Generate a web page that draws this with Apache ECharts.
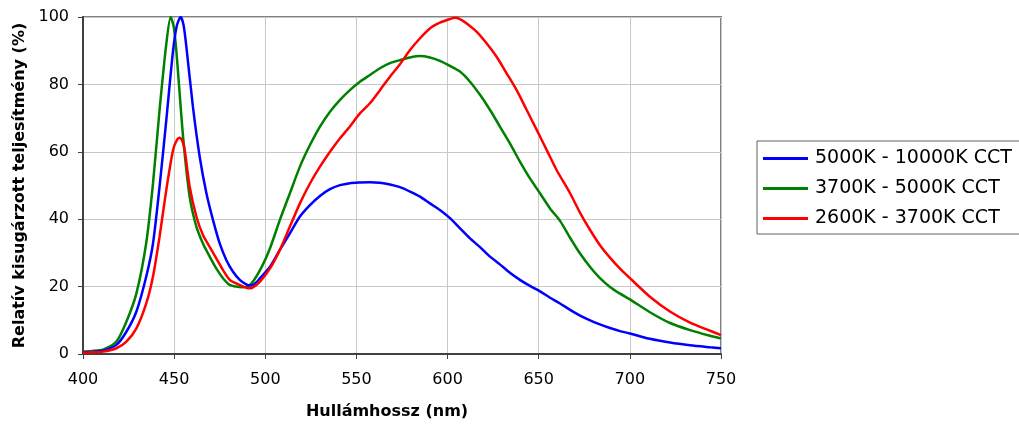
<!DOCTYPE html>
<html>
<head>
<meta charset="utf-8">
<script src="https://cdn.jsdelivr.net/npm/echarts@6/dist/echarts.min.js"></script>
<style>
html,body{margin:0;padding:0;background:#fff;}
#chart{width:1019px;height:429px;}
</style>
</head>
<body>
<div id="chart"></div>
<script>
const seriesNames = ['5000K - 10000K CCT', '3700K - 5000K CCT', '2600K - 3700K CCT'];
const xTitle = 'Hullámhossz (nm)';
const yTitle = 'Relatív kisugárzott teljesítmény (%)';

const blueNm = [400,405,411,418.3,423.8,429.3,434.7,438.4,442,445.7,449.4,451.5,453.6,455.2,456.7,460.3,464,467.7,471.3,475,478.6,482.3,486,489.8,492.5,495,497.1,502.6,508,513.5,519,524.5,530,535.5,541,546.4,551.9,557.4,562.9,568.4,573.9,579.4,584.9,590.3,595.8,601.3,606.8,612.3,617.8,623.3,628.7,634.2,639.7,645.2,650.7,656.2,661.7,667.2,672.7,678.2,683.6,689.1,694.6,700,711,722,733,744,750];
const blueVal = [0.5,0.7,1.0,2.7,6.6,12.6,23,32.8,49.7,69.4,90,97.5,100,97.5,91.2,73.4,58.6,47.7,39.8,32.8,27.9,24.4,22,20.6,20.3,21.2,22.5,25.9,30.9,35.8,40.8,44.2,46.9,48.9,50.1,50.7,50.9,51,50.8,50.3,49.5,48.2,46.7,44.7,42.7,40.3,37.3,34.3,31.7,28.9,26.6,24.1,22,20.2,18.6,16.7,15,13.1,11.4,10,8.8,7.7,6.8,6.1,4.5,3.4,2.6,2.0,1.7];

const greenNm = [400,405,411,418.3,423.8,429.3,434.7,438.4,442,445.7,448.1,449.8,451.2,454.9,458.5,462.2,465.8,469.5,473.1,476.8,480.5,484,487,491.6,497.1,502.6,508,513.5,519,524.5,530,535.5,541,546.4,551.9,557.4,562.9,568.4,573.9,579.4,584.9,590.3,595.8,601.3,606.8,612.3,617.8,623.3,628.7,634.2,639.7,645.2,650.7,656.2,661.7,667.2,672.7,678.2,683.6,689.1,694.6,700,711,722,733,744,750];
const greenVal = [0.7,0.9,1.3,3.7,9.6,18,33,50.6,72.4,92,100,97,90,64.5,46.7,37.8,32.8,28.9,25.4,22.5,20.5,20,19.8,20.5,24.9,31.4,39.8,47.7,55.6,62,67.5,71.9,75.4,78.3,80.8,82.8,84.8,86.3,87.2,88,88.4,88,87,85.5,83.8,80.8,76.9,72.4,67.5,62.5,57.1,52.1,47.7,43.2,39.5,34.5,29.8,25.8,22.5,19.9,17.9,16.2,12.4,9.2,7.1,5.4,4.6];

const redNm = [400,405,411,418.3,423.8,429.3,434.7,438.4,442,445.7,449.4,451.5,453,454.5,455.8,458.5,462.2,465.8,469.5,473.1,476.8,480.5,485.9,490.7,493,497.1,502.6,508,513.5,519,524.5,530,535.5,541,546.4,551.9,557.4,562.9,568.4,573.9,579.4,584.9,590.3,595.8,601.3,604,606.8,610.5,616,621.4,626.9,632.4,637.9,643.4,648.9,654.4,659.8,667.2,672.7,678.2,683.6,689.1,694.6,700,711,722,733,744,750];
const redVal = [0.4,0.5,0.7,1.7,3.7,7.6,15,23,34.8,48.7,60.5,63.5,64.2,63.2,60.5,49.7,40.8,35.3,31.8,28.4,24.9,22,20.5,19.5,19.7,21.5,25.4,30.9,37.8,44.7,50.6,55.6,60,64,67.5,71.4,74.4,78.3,82.3,86,90.2,93.7,96.6,98.3,99.4,99.8,99.4,98.1,95.6,92.2,88.2,83.3,78.3,72.4,66.5,60.5,54.6,47.7,41.9,36.8,32.3,28.6,25.3,22.5,17,12.6,9.3,6.9,5.6];

const colors = ['#0000ff', '#008000', '#ff0000'];

function zip(xs, ys) { return xs.map((x, i) => [x, ys[i]]); }

const chart = echarts.init(document.getElementById('chart'), null, {renderer: 'canvas'});
const font = 'DejaVu Sans';
chart.setOption({
  animation: false,
  backgroundColor: '#ffffff',
  textStyle: {fontFamily: font},
  grid: {left: 83, right: 298, top: 17, bottom: 75, show: true, borderColor: '#808080', borderWidth: 2, backgroundColor: '#ffffff'},
  xAxis: {
    type: 'value', min: 400, max: 750, interval: 50,
    name: xTitle, nameLocation: 'middle', nameGap: 50,
    nameTextStyle: {fontFamily: font, fontSize: 16, fontWeight: 'bold', color: '#000', padding: [0, 30, 0, 0]},
    axisLine: {lineStyle: {color: '#404040', width: 2}},
    axisTick: {show: true, inside: false, length: 5, lineStyle: {color: '#404040', width: 1}},
    axisLabel: {fontFamily: font, fontSize: 16, color: '#000', margin: 18},
    splitLine: {show: true, lineStyle: {color: '#c8c8c8', width: 1}}
  },
  yAxis: {
    type: 'value', min: 0, max: 100, interval: 20,
    name: yTitle, nameLocation: 'middle', nameGap: 55,
    nameTextStyle: {fontFamily: font, fontSize: 16, fontWeight: 'bold', color: '#000'},
    axisLine: {show: true, lineStyle: {color: '#404040', width: 2}},
    axisTick: {show: true, inside: false, length: 5, lineStyle: {color: '#404040', width: 1}},
    axisLabel: {fontFamily: font, fontSize: 16, color: '#000', margin: 14},
    splitLine: {show: true, lineStyle: {color: '#c8c8c8', width: 1}}
  },
  legend: {
    orient: 'vertical', left: 757, top: 141,
    padding: [8, 40, 6, 6],
    icon: 'rect',
    itemWidth: 45, itemHeight: 3, itemGap: 11,
    borderColor: '#606060', borderWidth: 1,
    textStyle: {fontFamily: font, fontSize: 19, color: '#000', padding: [0, 0, 0, 2], lineHeight: 19},
    data: seriesNames.map((n, i) => ({name: n, itemStyle: {color: colors[i]}}))
  },
  series: [
    {name: seriesNames[0], type: 'line', data: zip(blueNm, blueVal), symbol: 'none', smooth: 0.25, lineStyle: {color: colors[0], width: 2.5}, itemStyle: {color: colors[0]}, z: 3},
    {name: seriesNames[1], type: 'line', data: zip(greenNm, greenVal), symbol: 'none', smooth: 0.25, lineStyle: {color: colors[1], width: 2.5}, itemStyle: {color: colors[1]}, z: 2},
    {name: seriesNames[2], type: 'line', data: zip(redNm, redVal), symbol: 'none', smooth: 0.25, lineStyle: {color: colors[2], width: 2.5}, itemStyle: {color: colors[2]}, z: 4}
  ]
});
</script>
</body>
</html>
